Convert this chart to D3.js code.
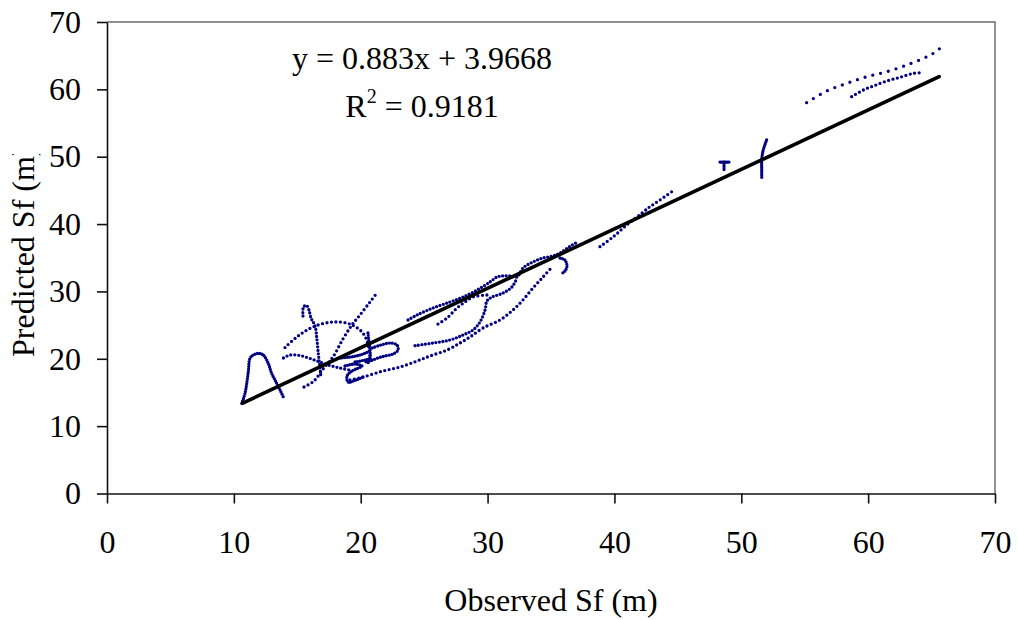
<!DOCTYPE html>
<html>
<head>
<meta charset="utf-8">
<script src="https://cdn.jsdelivr.net/npm/d3@7"></script>
<style>
  html, body { margin: 0; padding: 0; background: #fff; }
  svg { display: block; }
  text { font-family: "Liberation Serif", "Times New Roman", serif; fill: #000; }
</style>
</head>
<body>
<svg id="chart" width="1018" height="620"></svg>
<script>
// ---- Data (observed vs predicted Sf, in metres) ----
const xTicks = [0, 10, 20, 30, 40, 50, 60, 70];
const yTicks = [0, 10, 20, 30, 40, 50, 60, 70];

const fitSlope = 0.883;
const fitIntercept = 3.9668;
const fitR2 = 0.9181;
const fitRange = [10.7, 65.6];

// traces of predicted vs observed points
const bellTrace = [[10.62,13.39],[10.88,14.88],[11.14,18.08],[11.27,20.07],[11.53,20.56],[11.93,20.81],
  [12.32,20.56],[12.71,19.33],[12.98,17.84],[13.38,16.36],[13.64,15.37],[13.95,14.13]];
const hookTrace = [[15.45,26.35],[15.49,27.69],[15.73,27.91],[15.92,27.24],[16.08,26.05],[16.40,24.87],
  [16.55,22.79],[16.67,20.56],[16.79,18.63],[16.87,17.15]];
const upperArc = [[14.03,21.67],[15.06,23.38],[16.32,24.79],[17.81,25.46],[19.15,25.16],[20.10,23.98],
  [20.53,22.49],[20.73,20.41],[20.86,19.80]];
const lowerArc = [[13.91,20.12],[14.43,20.56],[15.21,20.49],[16.00,20.04],[16.79,19.52],[17.58,19.00],
  [18.37,18.63],[19.15,18.33]];
const diagTrace = [[15.53,15.81],[16.31,16.70],[17.03,18.48],[17.81,20.26],[18.60,22.94],[19.31,25.01],
  [19.94,26.50],[20.73,28.43],[21.28,29.77]];
const clusterA = [[18.37,20.12],[19.15,20.26],[19.94,20.56],[20.57,21.01]];
const clusterB = [[18.76,18.93],[19.55,19.22],[20.10,18.93],[19.31,18.19],[18.92,17.44],[19.00,16.55],
  [19.63,16.85],[20.18,17.29]];
const clusterC = [[19.55,19.52],[20.34,19.82],[20.89,20.12]];
const clusterV = [[20.57,23.83],[20.65,22.49],[20.73,21.30],[20.73,20.12],[20.57,19.37]];
const loopTrace = [[20.89,21.60],[21.60,22.05],[22.31,22.34],[22.86,22.05],[22.94,21.30],[22.55,20.71],
  [21.91,20.41],[21.36,20.12],[20.73,19.67],[20.34,19.52]];
const lowLong = [[19.15,16.85],[20.18,17.29],[21.76,18.19],[23.10,18.78],[24.44,19.67],[25.46,20.41],
  [26.80,21.30],[27.82,22.34],[28.61,23.23],[29.64,24.57],[30.98,25.76],[32.00,27.24],[32.79,28.73],
  [33.58,30.51],[34.37,32.14],[35.08,33.63]];
const midTrace = [[24.28,21.94],[25.70,22.34],[27.04,22.79],[28.06,23.53],[28.85,24.27],[29.40,25.46],
  [29.80,27.24],[29.95,28.58],[30.35,29.17],[31.22,29.76],[31.92,30.66],[32.32,31.99]];
const upperTrace = [[23.73,25.76],[24.44,26.50],[25.70,27.54],[27.04,28.43],[28.06,29.17],[29.17,30.21],
  [30.19,31.40],[30.74,32.14],[31.14,32.29],[31.77,32.29],[32.32,32.14],[32.79,33.48],[33.58,34.37],
  [34.37,34.96],[35.16,35.26],[35.71,35.70],[36.18,36.30],[36.66,36.89],[37.13,37.34]];
const shortTrace = [[26.09,25.16],[26.80,26.05],[27.59,27.54],[28.22,28.43],[28.85,29.17],[29.95,29.47]];
const smallHook = [[35.71,34.96],[36.10,34.66],[36.26,33.77],[36.10,33.03],[35.79,32.58]];
const trace40 = [[38.86,36.64],[39.91,38.12],[40.97,39.86],[42.15,41.60],[42.80,42.58],[43.59,43.57],[44.51,44.80]];
const tBar = [[48.32,49.21],[49.03,49.21]];
const tStem = [[48.64,49.21],[48.64,48.03]];
const trace52 = [[52.00,52.48],[51.73,50.99],[51.61,49.51],[51.61,48.03],[51.61,46.79]];
const topTrace = [[55.15,58.02],[56.73,59.75],[58.31,60.89],[59.89,61.87],[61.46,62.62],[63.04,63.61],
  [64.35,64.61],[65.14,65.35],[65.66,66.09]];
const topLower = [[58.70,58.91],[59.62,59.90],[60.41,60.50],[61.46,61.24],[62.52,61.79],[63.56,62.38],[64.22,62.47]];

// dot spacing (px) along each trace
const traces = [
  { pts: bellTrace, gap: 2.5 }, { pts: hookTrace, gap: 3.5 }, { pts: upperArc, gap: 4.5 },
  { pts: lowerArc, gap: 4 }, { pts: diagTrace, gap: 4.5 }, { pts: clusterA, gap: 2.5 },
  { pts: clusterB, gap: 2.5 }, { pts: clusterC, gap: 2.5 }, { pts: clusterV, gap: 2.5 },
  { pts: loopTrace, gap: 3 }, { pts: lowLong, gap: 4.5 }, { pts: midTrace, gap: 3.5 },
  { pts: upperTrace, gap: 3.5 }, { pts: shortTrace, gap: 4.5 }, { pts: smallHook, gap: 2.5 },
  { pts: trace40, gap: 4.5 }, { pts: tBar, gap: 1.5 }, { pts: tStem, gap: 1.5 },
  { pts: trace52, gap: 2 }, { pts: topTrace, gap: 8 }, { pts: topLower, gap: 4.5 }
];

// ---- Layout ----
const margin = { top: 22, left: 107, right: 23, bottom: 126.5 };
const width = 1018 - margin.left - margin.right;
const height = 620 - margin.top - margin.bottom;
const FONT = 32;

const svg = d3.select('#chart');
const g = svg.append('g').attr('transform', `translate(${margin.left},${margin.top})`);

const x = d3.scaleLinear().domain([0, 70]).range([0, width]);
const y = d3.scaleLinear().domain([0, 70]).range([height, 0]);

// plot area border (top / right in grey)
g.append('path')
  .attr('d', `M0,0H${width}V${height}`)
  .attr('fill', 'none')
  .attr('stroke', '#6e6e6e')
  .attr('stroke-width', 1.5);

// axes
const xAxis = g.append('g')
  .attr('transform', `translate(0,${height})`)
  .call(d3.axisBottom(x).tickValues(xTicks).tickSize(10).tickPadding(27).tickSizeOuter(0));
const yAxis = g.append('g')
  .call(d3.axisLeft(y).tickValues(yTicks).tickSize(10).tickPadding(16).tickSizeOuter(0));

[xAxis, yAxis].forEach(a => {
  a.selectAll('path, line').attr('stroke', '#111').attr('stroke-width', 1.6);
  a.selectAll('text').attr('font-size', FONT).attr('fill', '#000')
    .style('font-family', '"Liberation Serif", "Times New Roman", serif');
});

// data traces (dotted)
const line = d3.line()
  .x(d => x(d[0]))
  .y(d => y(d[1]))
  .curve(d3.curveCatmullRom.alpha(0.5));

g.append('g').selectAll('path.trace')
  .data(traces)
  .join('path')
  .attr('class', 'trace')
  .attr('d', d => line(d.pts))
  .attr('fill', 'none')
  .attr('stroke', '#000080')
  .attr('stroke-width', 3.3)
  .attr('stroke-linecap', 'round')
  .attr('stroke-dasharray', d => `0,${d.gap}`);

// linear fit
g.append('line')
  .attr('x1', x(fitRange[0])).attr('y1', y(fitSlope * fitRange[0] + fitIntercept))
  .attr('x2', x(fitRange[1])).attr('y2', y(fitSlope * fitRange[1] + fitIntercept))
  .attr('stroke', '#000')
  .attr('stroke-width', 3.6)
  .attr('stroke-linecap', 'round');

// equation label
svg.append('text')
  .attr('x', 422).attr('y', 68.5)
  .attr('text-anchor', 'middle')
  .attr('font-size', FONT)
  .text(`y = ${fitSlope}x + ${fitIntercept}`);

const r2 = svg.append('text')
  .attr('x', 422).attr('y', 116.5)
  .attr('text-anchor', 'middle')
  .attr('font-size', FONT);
r2.append('tspan').text('R');
r2.append('tspan').attr('font-size', 20).attr('dy', -14).text('2');
r2.append('tspan').attr('dy', 14).text(` = ${fitR2}`);

// axis titles
svg.append('text')
  .attr('x', margin.left + width / 2).attr('y', 611)
  .attr('text-anchor', 'middle')
  .attr('font-size', FONT)
  .text('Observed Sf (m)');

svg.append('clipPath').attr('id', 'ylab-clip')
  .append('rect').attr('x', 0).attr('y', 154).attr('width', 60).attr('height', 300);

svg.append('g').attr('clip-path', 'url(#ylab-clip)')
  .append('text')
  .attr('transform', 'translate(33.5,357) rotate(-90)')
  .attr('text-anchor', 'start')
  .attr('font-size', FONT)
  .text('Predicted Sf (m)');
</script>
</body>
</html>
